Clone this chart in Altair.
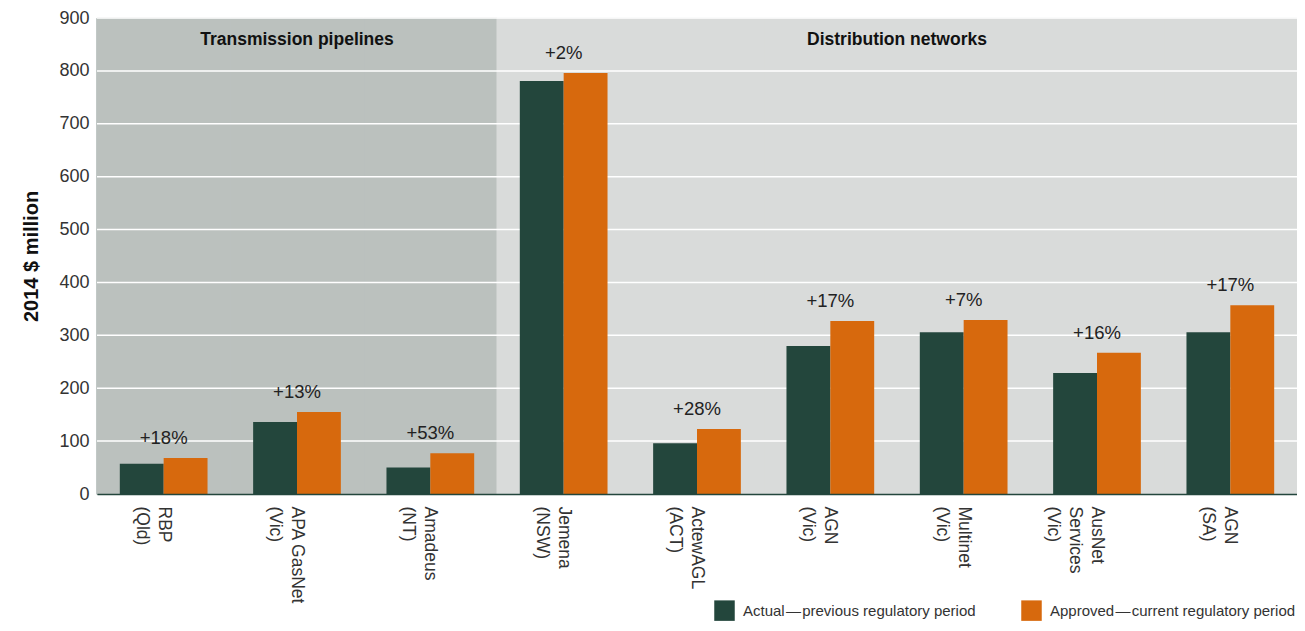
import altair as alt
import pandas as pd

categories = ["RBP|(Qld)", "APA GasNet|(Vic)", "Amadeus|(NT)", "Jemena|(NSW)",
              "ActewAGL|(ACT)", "AGN|(Vic)", "Multinet|(Vic)", "AusNet|Services|(Vic)", "AGN|(SA)"]
segments = ["Transmission pipelines"] * 3 + ["Distribution networks"] * 6
actual = [57, 136, 50, 781, 96, 280, 306, 229, 306]
approved = [68, 155, 77, 796, 123, 327, 329, 267, 357]
changes = ["+18%", "+13%", "+53%", "+2%", "+28%", "+17%", "+7%", "+16%", "+17%"]
series = ["Actual\u200a\u2014\u200aprevious regulatory period",
          "Approved\u200a\u2014\u200acurrent regulatory period"]
series_colors = ["#23463c", "#d7690d"]
grid_values = [100, 200, 300, 400, 500, 600, 700, 800, 900]
y_ticks = [0, 100, 200, 300, 400, 500, 600, 700, 800, 900]
header_names = ["Transmission pipelines", "Distribution networks"]
header_value = 858

W, H = 1200, 476
FONT = "Liberation Sans"

bars_df = pd.DataFrame(
    [{"category": c, "series": series[0], "value": a} for c, a in zip(categories, actual)]
    + [{"category": c, "series": series[1], "value": p} for c, p in zip(categories, approved)]
)
bg_df = pd.DataFrame({"category": categories, "segment": segments})
lab_df = pd.DataFrame({"category": categories,
                       "top": [max(a, p) for a, p in zip(actual, approved)],
                       "label": changes})
grid_df = pd.DataFrame({"value": grid_values})

xscale = alt.Scale(paddingInner=0, paddingOuter=0)
yscale = alt.Scale(domain=[0, 900], nice=False)
yaxis = alt.Axis(title="2014 $ million", values=y_ticks,
                 grid=False, ticks=False, labelFont=FONT, labelFontSize=18,
                 labelColor="#333333", labelPadding=8, domainColor="#23463c",
                 domainWidth=1.5, titleFont=FONT, titleFontSize=20,
                 titleFontWeight="bold", titleColor="#111111", titlePadding=17)


def xenc(**kw):
    return alt.X("category:N", sort=categories, scale=xscale, **kw)


def yenc(field):
    return alt.Y(field, scale=yscale, axis=yaxis)


is_trans = alt.datum.segment == "Transmission pipelines"
background = alt.Chart(bg_df).mark_rect(strokeWidth=1).encode(
    x=xenc(axis=alt.Axis(title=None, labelAngle=90, labelExpr="split(datum.label, '|')",
                         labelFont=FONT, labelFontSize=17.5, labelColor="#333333",
                         labelPadding=12, labelLineHeight=22, ticks=False,
                         domainColor="#23463c", domainWidth=1.5, labelLimit=200)),
    y=alt.value(0),
    y2=alt.value(H),
    color=alt.condition(is_trans, alt.value("#bbc1be"), alt.value("#d9dbda")),
    stroke=alt.condition(is_trans, alt.value("#bbc1be"), alt.value("#d9dbda")),
)

grid = alt.Chart(grid_df).mark_rule(color="white", strokeWidth=1.5).encode(
    y=yenc("value:Q")
)

bars = alt.Chart(bars_df).mark_bar().encode(
    x=xenc(),
    xOffset=alt.XOffset("series:N", sort=series,
                        scale=alt.Scale(paddingInner=0, paddingOuter=0.52)),
    y=yenc("value:Q"),
    color=alt.Color("series:N", sort=series,
                    scale=alt.Scale(domain=series, range=series_colors),
                    legend=alt.Legend(title=None, orient="none", legendX=617, legendY=582,
                                      direction="horizontal", symbolType="square",
                                      symbolSize=420, symbolStrokeWidth=0,
                                      labelFont=FONT, labelFontSize=15, labelColor="#333333",
                                      columnPadding=45, labelOffset=8, padding=0,
                                      labelLimit=400)),
)

pct = alt.Chart(lab_df).mark_text(font=FONT, fontSize=18.5, color="#222222",
                                  baseline="alphabetic", dy=-14).encode(
    x=xenc(),
    y=yenc("top:Q"),
    text="label:N",
)

h1 = alt.Chart(pd.DataFrame({"category": [categories[1]], "name": [header_names[0]],
                             "v": [header_value]})).mark_text(
    font=FONT, fontSize=17.5, fontWeight="bold", color="#111111").encode(
    x=alt.X("category:N", sort=categories, scale=xscale, bandPosition=0.5),
    y=yenc("v:Q"),
    text="name:N",
)
h2 = alt.Chart(pd.DataFrame({"category": [categories[5]], "name": [header_names[1]],
                             "v": [header_value]})).mark_text(
    font=FONT, fontSize=17.5, fontWeight="bold", color="#111111").encode(
    x=alt.X("category:N", sort=categories, scale=xscale, bandPosition=1),
    y=yenc("v:Q"),
    text="name:N",
)

chart = alt.layer(background, grid, bars, pct, h1, h2).properties(
    width=W, height=H,
    autosize=alt.AutoSizeParams(type="none"),
    padding={"left": 89, "top": 10, "right": 0, "bottom": 128},
    background="white",
).configure_view(stroke=None)

chart.save("out.html", embed_options={"renderer": "svg", "actions": False})
